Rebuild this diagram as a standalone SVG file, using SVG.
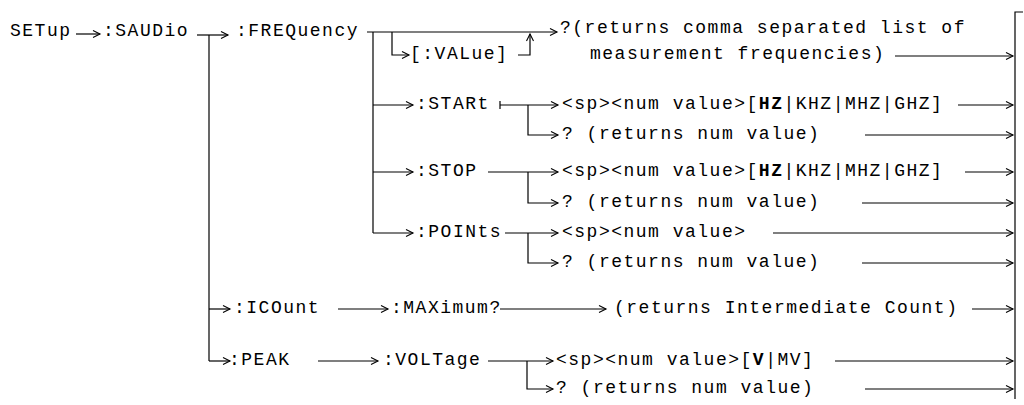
<svg xmlns="http://www.w3.org/2000/svg" width="1024" height="405" viewBox="0 0 1024 405">
<style>
text{font-family:"Liberation Mono","Courier New",monospace;font-size:18px;letter-spacing:1.5px;fill:#000}
.b{font-weight:bold}
.c{fill:none;stroke:#000;stroke-width:1.2}
.a{marker-end:url(#ah)}
</style>
<defs>
<marker id="ah" markerWidth="10" markerHeight="10" refX="8" refY="4" orient="auto" markerUnits="userSpaceOnUse">
<path d="M1,0.5 L8,4 L1,7.5" fill="none" stroke="#000" stroke-width="1.1"/>
</marker>
</defs>
<rect width="1024" height="405" fill="#fff"/>
<g id="connectors">
<path class="c a" d="M76,34 H100"/>
<path class="c a" d="M197,35 H228"/>
<path class="c" d="M209,35 V361"/>
<path class="c a" d="M367,32 H557"/>
<path class="c" d="M373,32 V233"/>
<path class="c a" d="M392,32 V55 H409"/>
<path class="c a" d="M518,55 H530 V34"/>
<path class="c a" d="M895,56 H1013"/>
<path class="c" d="M1023,12 H1015 V399"/>
<path class="c a" d="M373,105 H413"/>
<path class="c" d="M500,101 V109"/>
<path class="c a" d="M500,105 H558"/>
<path class="c a" d="M528,105 V135 H558"/>
<path class="c a" d="M958,105 H1013"/>
<path class="c a" d="M865,135 H1013"/>
<path class="c a" d="M373,172 H413"/>
<path class="c a" d="M488,172 H558"/>
<path class="c a" d="M528,172 V203 H558"/>
<path class="c a" d="M965,172 H1013"/>
<path class="c a" d="M862,203 H1013"/>
<path class="c a" d="M373,233 H413"/>
<path class="c a" d="M505,233 H558"/>
<path class="c a" d="M528,233 V263 H558"/>
<path class="c a" d="M773,233 H1013"/>
<path class="c a" d="M862,263 H1013"/>
<path class="c a" d="M209,309 H230"/>
<path class="c a" d="M338,309 H388"/>
<path class="c a" d="M500,309 H606"/>
<path class="c a" d="M972,309 H1013"/>
<path class="c a" d="M209,361 H230"/>
<path class="c a" d="M318,361 H378"/>
<path class="c a" d="M488,361 H553"/>
<path class="c a" d="M527,361 V389 H553"/>
<path class="c a" d="M835,361 H1013"/>
<path class="c a" d="M865,389 H1013"/>
</g>
<g id="n-setup"><text x="10" y="36">SETup</text></g>
<g id="n-saudio"><text x="103" y="36">:SAUDio</text></g>
<g id="n-frequency"><text x="236" y="36">:FREQuency</text></g>
<g id="n-value"><text x="410" y="59">[:VALue]</text></g>
<g id="n-freq-query"><text x="560" y="33">?(returns comma separated list of</text><text x="590" y="59">measurement frequencies)</text></g>
<g id="n-start"><text x="416" y="109">:STARt</text></g>
<g id="n-start-set"><text x="562" y="109">&lt;sp&gt;&lt;num value&gt;[<tspan class="b">HZ</tspan>|KHZ|MHZ|GHZ]</text></g>
<g id="n-start-query"><text x="562" y="139">? (returns num value)</text></g>
<g id="n-stop"><text x="416" y="176">:STOP</text></g>
<g id="n-stop-set"><text x="562" y="176">&lt;sp&gt;&lt;num value&gt;[<tspan class="b">HZ</tspan>|KHZ|MHZ|GHZ]</text></g>
<g id="n-stop-query"><text x="562" y="207">? (returns num value)</text></g>
<g id="n-points"><text x="416" y="237">:POINts</text></g>
<g id="n-points-set"><text x="562" y="237">&lt;sp&gt;&lt;num value&gt;</text></g>
<g id="n-points-query"><text x="562" y="267">? (returns num value)</text></g>
<g id="n-icount"><text x="234" y="313">:ICOunt</text></g>
<g id="n-maximum"><text x="391" y="313">:MAXimum?</text></g>
<g id="n-icount-ret"><text x="614" y="313">(returns Intermediate Count)</text></g>
<g id="n-peak"><text x="229" y="365">:PEAK</text></g>
<g id="n-voltage"><text x="383" y="365">:VOLTage</text></g>
<g id="n-voltage-set"><text x="556" y="365">&lt;sp&gt;&lt;num value&gt;[<tspan class="b">V</tspan>|MV]</text></g>
<g id="n-voltage-query"><text x="556" y="393">? (returns num value)</text></g>
</svg>
